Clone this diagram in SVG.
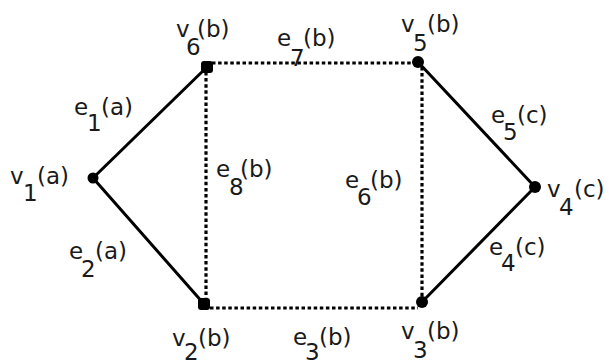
<svg xmlns="http://www.w3.org/2000/svg" width="609" height="364" viewBox="0 0 609 364">
<style>
.solid{stroke:#000;stroke-width:3;fill:none;stroke-linecap:round}
.dot{stroke:#000;stroke-width:3.2;fill:none;stroke-dasharray:3.5 2.6}
.nd{fill:#000}
text{font-family:"DejaVu Sans","Open Sans","Liberation Sans",sans-serif;font-size:23px;fill:#1a1a1a}
</style>
<rect width="609" height="364" fill="#fff"/>
<g id="connectors">
<line class="solid" x1="93" y1="178" x2="207" y2="67"/>
<line class="solid" x1="93" y1="178" x2="204" y2="304"/>
<line class="solid" x1="418" y1="62" x2="535" y2="187"/>
<line class="solid" x1="535" y1="187" x2="422" y2="302"/>
<line class="dot" x1="212" y1="63" x2="414" y2="63"/>
<line class="dot" x1="206" y1="72" x2="206" y2="300"/>
<line class="dot" x1="422" y1="67" x2="422" y2="298"/>
<line class="dot" x1="210" y1="308" x2="418" y2="308"/>
</g>
<g id="v1"><circle class="nd" cx="93" cy="178" r="5.5"/><text><tspan x="10" y="184">v</tspan><tspan x="23" y="201">1</tspan><tspan x="37" y="184">(a)</tspan></text></g>
<g id="v2"><rect class="nd" x="198" y="298" width="12" height="12" rx="3"/><text><tspan x="172" y="346">v</tspan><tspan x="184" y="360">2</tspan><tspan x="198" y="346">(b)</tspan></text></g>
<g id="v3"><circle class="nd" cx="422" cy="302" r="6"/><text><tspan x="401" y="339">v</tspan><tspan x="413" y="358">3</tspan><tspan x="427" y="339">(b)</tspan></text></g>
<g id="v4"><circle class="nd" cx="535" cy="187" r="6"/><text><tspan x="547" y="197">v</tspan><tspan x="559" y="215">4</tspan><tspan x="574" y="197">(c)</tspan></text></g>
<g id="v5"><circle class="nd" cx="418" cy="62" r="6"/><text><tspan x="401" y="32">v</tspan><tspan x="413" y="51">5</tspan><tspan x="427" y="32">(b)</tspan></text></g>
<g id="v6"><rect class="nd" x="201" y="61" width="12" height="12" rx="3"/><text><tspan x="176" y="37">v</tspan><tspan x="186" y="55">6</tspan><tspan x="197" y="37">(b)</tspan></text></g>
<g id="labels">
<text><tspan x="74" y="115">e</tspan><tspan x="87" y="131">1</tspan><tspan x="101" y="115">(a)</tspan></text>
<text><tspan x="69" y="259">e</tspan><tspan x="81" y="277">2</tspan><tspan x="95" y="259">(a)</tspan></text>
<text><tspan x="293" y="345">e</tspan><tspan x="305" y="360">3</tspan><tspan x="319" y="345">(b)</tspan></text>
<text><tspan x="489" y="255">e</tspan><tspan x="501" y="271">4</tspan><tspan x="515" y="255">(c)</tspan></text>
<text><tspan x="491" y="123">e</tspan><tspan x="503" y="140">5</tspan><tspan x="517" y="123">(c)</tspan></text>
<text><tspan x="345" y="188">e</tspan><tspan x="357" y="205">6</tspan><tspan x="370" y="188">(b)</tspan></text>
<text><tspan x="277" y="46">e</tspan><tspan x="290" y="66">7</tspan><tspan x="303" y="46">(b)</tspan></text>
<text><tspan x="216" y="177">e</tspan><tspan x="229" y="195">8</tspan><tspan x="240" y="177">(b)</tspan></text>
</g>
</svg>
